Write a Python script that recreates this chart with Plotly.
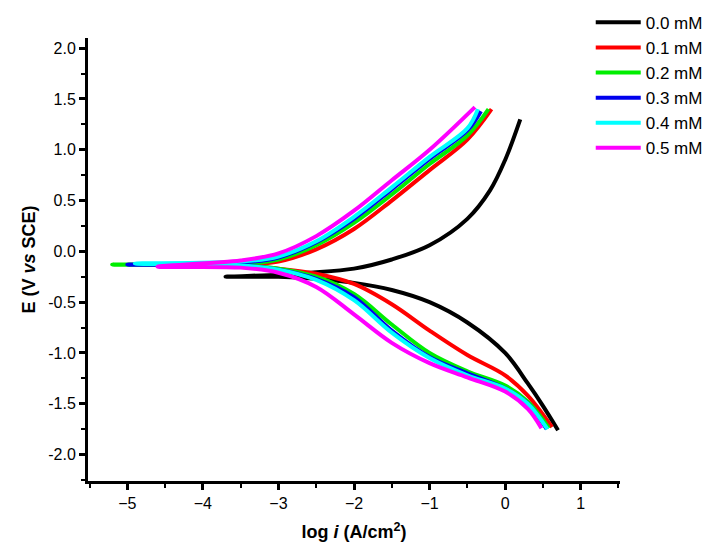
import plotly.graph_objects as go

labels = ["0.0 mM", "0.1 mM", "0.2 mM", "0.3 mM", "0.4 mM", "0.5 mM"]
colors = ["#000000", "#ff0000", "#00ee00", "#0000ee", "#00ffff", "#ff00ff"]

# each curve: cathodic branch (from high current down to corrosion point), then anodic branch
log_i = [
    [0.70, 0.50, 0.30, 0.0, -0.5, -1.0, -1.5, -2.0, -2.5, -3.0, -3.7, -3.0, -2.6, -2.0, -1.5, -1.0, -0.5, -0.2, 0.0, 0.2],
    [0.62, 0.30, 0.0, -0.5, -1.0, -1.5, -2.0, -2.5, -3.0, -3.5, -4.5, -3.5, -3.0, -2.5, -2.0, -1.5, -1.0, -0.5, -0.18],
    [0.58, 0.30, 0.0, -0.5, -1.0, -1.5, -2.0, -2.5, -3.0, -3.5, -5.2, -3.5, -3.0, -2.5, -2.0, -1.5, -1.0, -0.5, -0.22],
    [0.55, 0.30, 0.0, -0.5, -1.0, -1.5, -2.0, -2.5, -3.0, -3.5, -5.0, -3.5, -3.0, -2.5, -2.0, -1.5, -1.0, -0.5, -0.32],
    [0.56, 0.30, 0.0, -0.5, -1.0, -1.5, -2.0, -2.5, -3.0, -3.5, -4.9, -3.5, -3.0, -2.5, -2.0, -1.5, -1.0, -0.5, -0.36],
    [0.48, 0.30, 0.0, -0.5, -1.0, -1.5, -2.0, -2.5, -3.0, -3.5, -4.6, -3.5, -3.0, -2.5, -2.0, -1.5, -1.0, -0.4],
]
E = [
    [-1.76, -1.52, -1.30, -1.00, -0.70, -0.50, -0.38, -0.31, -0.27, -0.25, -0.25, -0.23, -0.21, -0.17, -0.08, 0.06, 0.32, 0.60, 0.90, 1.30],
    [-1.73, -1.42, -1.22, -1.02, -0.78, -0.52, -0.32, -0.22, -0.17, -0.15, -0.14, -0.13, -0.10, 0.02, 0.22, 0.50, 0.80, 1.10, 1.40],
    [-1.74, -1.48, -1.32, -1.18, -1.00, -0.72, -0.42, -0.25, -0.17, -0.14, -0.13, -0.12, -0.08, 0.06, 0.28, 0.56, 0.86, 1.14, 1.40],
    [-1.75, -1.50, -1.35, -1.20, -1.04, -0.78, -0.45, -0.27, -0.18, -0.14, -0.13, -0.11, -0.06, 0.09, 0.32, 0.61, 0.91, 1.19, 1.38],
    [-1.75, -1.50, -1.35, -1.22, -1.05, -0.80, -0.48, -0.28, -0.18, -0.14, -0.12, -0.10, -0.05, 0.10, 0.34, 0.63, 0.93, 1.21, 1.40],
    [-1.74, -1.55, -1.38, -1.24, -1.10, -0.90, -0.62, -0.35, -0.21, -0.16, -0.15, -0.09, -0.02, 0.15, 0.40, 0.70, 1.00, 1.42],
]

fig = go.Figure()
for name, c, x, y in zip(labels, colors, log_i, E):
    fig.add_trace(go.Scatter(x=x, y=y, mode="lines", name=name,
                             line=dict(color=c, width=4, shape="spline")))

axis_common = dict(showline=True, linecolor="black", linewidth=3, mirror=False,
                   ticks="outside", ticklen=6, tickwidth=3, tickcolor="black",
                   showgrid=False, zeroline=False,
                   tickfont=dict(family="Liberation Sans, Arial", size=16, color="black"))

fig.update_xaxes(range=[-5.52, 1.52], tickvals=[-5, -4, -3, -2, -1, 0, 1],
                 minor=dict(dtick=0.5, ticks="outside", ticklen=4, tickwidth=2, tickcolor="black"),
                 title=dict(text="<b>log <i>i</i> (A/cm<sup>2</sup>)</b>", font=dict(size=18, color="black")),
                 **axis_common)
fig.update_yaxes(range=[-2.26, 2.1], tickvals=[-2, -1.5, -1, -0.5, 0, 0.5, 1, 1.5, 2],
                 ticktext=["-2.0", "-1.5", "-1.0", "-0.5", "0.0", "0.5", "1.0", "1.5", "2.0"],
                 minor=dict(dtick=0.25, ticks="outside", ticklen=4, tickwidth=2, tickcolor="black"),
                 title=dict(text="<b>E (V <i>vs</i> SCE)</b>", font=dict(size=18, color="black"), standoff=8),
                 **axis_common)

fig.update_layout(
    width=711, height=542,
    plot_bgcolor="white", paper_bgcolor="white",
    font=dict(family="Liberation Sans, Arial", color="black"),
    margin=dict(l=80, r=99, t=30, b=69, autoexpand=False),
    legend=dict(x=0.945, y=1.075, xanchor="left", yanchor="top",
                font=dict(size=17), tracegroupgap=0, itemwidth=45, bgcolor="rgba(0,0,0,0)"),
)

fig.write_html("out.html")
